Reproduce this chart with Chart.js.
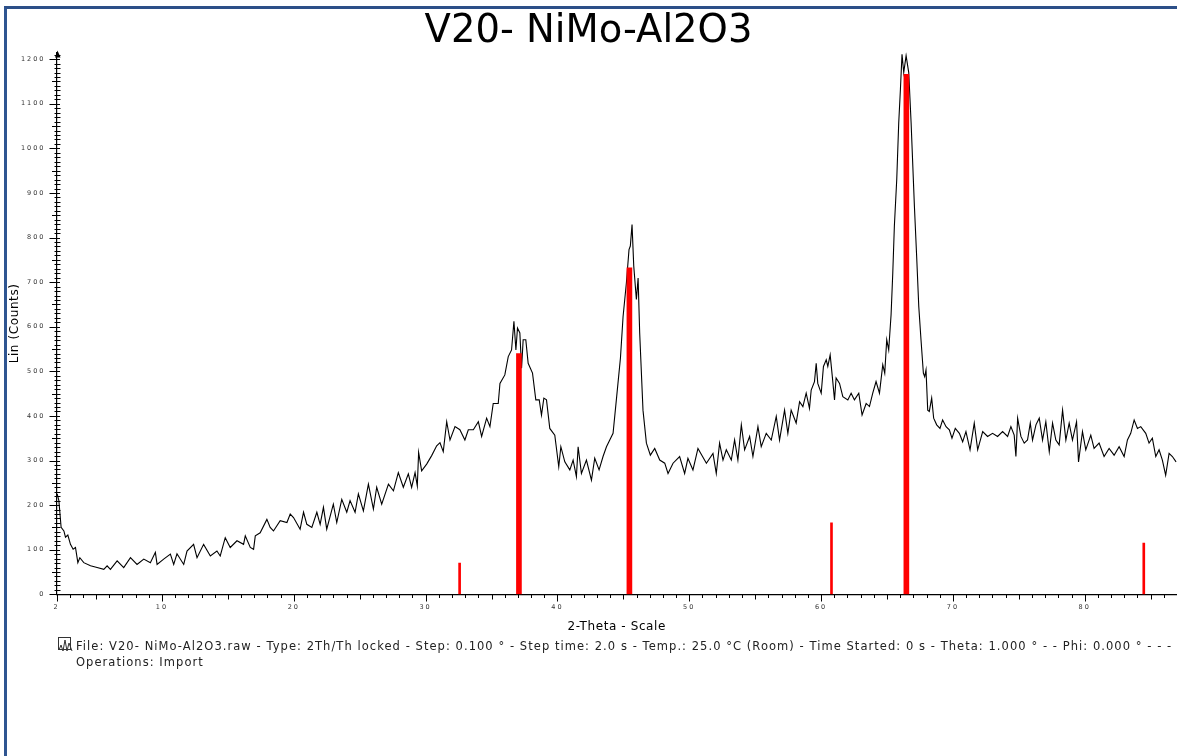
<!DOCTYPE html>
<html>
<head>
<meta charset="utf-8">
<title>V20- NiMo-Al2O3</title>
<script src="https://cdn.jsdelivr.net/npm/chart.js@4.4.1/dist/chart.umd.min.js"></script>
<style>
  html, body { margin: 0; padding: 0; background: #fff; overflow: hidden; }
  #wrap { position: relative; width: 1177px; height: 756px; overflow: hidden; }
  #frame { position: absolute; left: 4px; top: 6px; width: 1300px; height: 900px;
           border-left: 3px solid #2f5591; border-top: 3px solid #2c4f88; pointer-events: none; }
  #myChart { position: absolute; left: 0; top: 0; }
  #footer { position: absolute; left: 76px; top: 638px; font: 11.5px "DejaVu Sans", sans-serif;
            letter-spacing: 1.05px; line-height: 16px; color: #222; white-space: nowrap; }
  #icon { position: absolute; left: 58px; top: 637px; }
</style>
</head>
<body>
<div id="wrap">
  <canvas id="myChart" width="1177" height="756"></canvas>
  <div id="frame"></div>
  <svg id="icon" width="15" height="15" viewBox="0 0 15 15">
    <rect x="0.5" y="0.5" width="12" height="12" fill="none" stroke="#333" stroke-width="1"/>
    <polyline points="1,13 3,8 5,14 7,3 9,14 11,6 14,14" fill="none" stroke="#333" stroke-width="1"/>
  </svg>
  <div id="footer">File: V20- NiMo-Al2O3.raw - Type: 2Th/Th locked - Step: 0.100 ° - Step time: 2.0 s - Temp.: 25.0 °C (Room) - Time Started: 0 s - Theta: 1.000 ° - - Phi: 0.000 ° - - - -<br>Operations: Import</div>
</div>
<script>
// measured pattern (2-theta, counts)
var twoTheta = [
  2.05, 2.18, 2.35, 2.56, 2.68, 2.86, 3.06, 3.26, 3.44, 3.62, 3.77, 4.07, 4.58, 5.08, 5.59, 5.84, 6.09, 6.6, 7.1, 7.61,
  8.11, 8.62, 9.12, 9.5, 9.63, 10.13, 10.64, 10.89, 11.14, 11.65, 11.9, 12.4, 12.66, 13.16, 13.67, 14.17, 14.42, 14.8, 15.18, 15.69,
  16.19, 16.32, 16.7, 16.95, 17.08, 17.45, 17.96, 18.21, 18.46, 18.97, 19.48, 19.73, 19.98, 20.48, 20.74, 20.99, 21.37, 21.75, 22.0, 22.25,
  22.5, 23.0, 23.26, 23.64, 24.02, 24.27, 24.65, 24.9, 25.28, 25.66, 26.04, 26.29, 26.67, 27.18, 27.56, 27.93, 28.31, 28.69, 28.94, 29.2,
  29.37, 29.47, 29.7, 30.08, 30.46, 30.84, 31.09, 31.34, 31.6, 31.85, 32.23, 32.6, 32.98, 33.24, 33.62, 34.0, 34.25, 34.63, 34.88, 35.13,
  35.51, 35.64, 36.01, 36.27, 36.52, 36.7, 36.85, 36.97, 37.15, 37.28, 37.4, 37.6, 37.78, 38.11, 38.36, 38.62, 38.79, 38.97, 39.17, 39.42,
  39.8, 40.1, 40.26, 40.56, 40.94, 41.19, 41.44, 41.57, 41.82, 42.2, 42.58, 42.83, 43.16, 43.46, 43.72, 43.97, 44.22, 44.47, 44.78, 44.98,
  45.23, 45.43, 45.53, 45.66, 45.79, 45.99, 46.12, 46.24, 46.49, 46.75, 47.05, 47.38, 47.76, 48.14, 48.39, 48.77, 49.27, 49.65, 49.9, 50.28,
  50.66, 51.3, 51.8, 52.05, 52.3, 52.56, 52.81, 53.19, 53.44, 53.69, 53.95, 54.2, 54.58, 54.83, 55.21, 55.46, 55.84, 56.22, 56.6, 56.85,
  57.23, 57.48, 57.73, 58.11, 58.37, 58.62, 58.87, 59.12, 59.25, 59.5, 59.63, 59.75, 60.01, 60.18, 60.39, 60.51, 60.69, 60.84, 61.02, 61.14,
  61.4, 61.65, 62.03, 62.28, 62.53, 62.86, 63.11, 63.42, 63.67, 63.92, 64.17, 64.43, 64.68, 64.83, 64.98, 65.13, 65.31, 65.44, 65.56, 65.74,
  65.89, 66.02, 66.14, 66.27, 66.45, 66.65, 66.83, 67.08, 67.25, 67.41, 67.58, 67.76, 67.86, 67.96, 68.09, 68.21, 68.39, 68.54, 68.77, 69.02,
  69.22, 69.48, 69.73, 69.93, 70.18, 70.49, 70.74, 70.99, 71.3, 71.62, 71.88, 72.26, 72.63, 73.01, 73.39, 73.77, 74.15, 74.4, 74.65, 74.78,
  74.91, 75.16, 75.41, 75.66, 75.87, 76.04, 76.3, 76.55, 76.8, 77.05, 77.31, 77.56, 77.81, 78.06, 78.32, 78.57, 78.82, 79.07, 79.38, 79.53,
  79.83, 80.08, 80.46, 80.71, 81.09, 81.47, 81.85, 82.23, 82.61, 82.99, 83.24, 83.49, 83.75, 84.0, 84.25, 84.63, 84.88, 85.13, 85.39, 85.64,
  85.89, 86.14, 86.4, 86.65, 86.93
];
var counts = [
  225, 210, 150, 142, 128, 133, 112, 101, 105, 71, 82, 71, 64, 60, 56, 64, 56, 75, 60, 82,
  67, 79, 71, 94, 67, 79, 90, 67, 91, 67, 97, 112, 82, 112, 86, 97, 86, 127, 105, 120,
  112, 131, 105, 101, 131, 138, 168, 150, 142, 165, 161, 180, 172, 146, 184, 157, 150, 184, 157, 195,
  146, 202, 161, 213, 184, 210, 184, 225, 187, 247, 191, 240, 202, 247, 232, 273, 240, 270, 240, 273,
  243, 318, 277, 292, 311, 333, 340, 320, 387, 346, 376, 369, 346, 369, 369, 387, 354, 395, 376, 428,
  428, 473, 492, 533, 548, 612, 548, 597, 586, 507, 571, 571, 518, 496, 436, 436, 402, 440, 436, 372,
  357, 286, 331, 297, 279, 301, 264, 331, 271, 301, 256, 305, 279, 309, 331, 346, 361, 436, 530, 623,
  698, 773, 781, 829, 736, 661, 709, 586, 413, 339, 312, 327, 301, 294, 271, 294, 309, 271, 305, 279,
  327, 294, 316, 271, 339, 301, 324, 301, 346, 301, 380, 324, 354, 309, 376, 331, 361, 346, 399, 346,
  413, 361, 413, 384, 432, 421, 451, 417, 458, 477, 518, 473, 451, 511, 526, 511, 537, 492, 436, 485,
  473, 443, 436, 451, 436, 451, 402, 428, 421, 451, 477, 451, 515, 496, 571, 548, 627, 721, 826, 930,
  1057, 1133, 1211, 1170, 1208, 1170, 1057, 870, 758, 646, 571, 496, 488, 503, 413, 410, 440, 395, 380, 372,
  391, 376, 369, 350, 372, 361, 342, 365, 324, 384, 324, 365, 354, 361, 354, 365, 354, 376, 357, 309,
  395, 354, 339, 346, 384, 346, 380, 395, 346, 387, 320, 384, 346, 335, 413, 346, 384, 346, 387, 297,
  365, 324, 357, 327, 339, 309, 327, 312, 331, 309, 346, 361, 391, 372, 376, 361, 339, 350, 309, 324,
  301, 267, 316, 309, 297
];

// reference pattern sticks (red)
var strongPos = [37.08, 45.46, 66.47];
var strongInt = [540, 732, 1166];
var weakPos = [32.58, 60.79, 84.48];
var weakInt = [70, 160, 115];

var xTickLabels = [2, 10, 20, 30, 40, 50, 60, 70, 80];
var yTickStep = 100;

function toPoints(xs, ys) {
  var out = [];
  for (var i = 0; i < xs.length; i++) out.push({ x: xs[i], y: ys[i] });
  return out;
}

// wraps a scale draw method so its text gets extra letter spacing
function spaced(scale, name, px) {
  var orig = scale[name];
  scale[name] = function (a) {
    this.ctx.save();
    this.ctx.letterSpacing = px;
    orig.call(this, a);
    this.ctx.restore();
  };
}

// tiny axis ticks like the diffractometer software
var axisTicks = {
  id: 'axisTicks',
  beforeDraw: function (chart) {
    ['x', 'y'].forEach(function (id) {
      var s = chart.scales[id];
      if (s._spaced) return;
      spaced(s, 'drawLabels', '2px');
      spaced(s, 'drawTitle', '0.6px');
      s._spaced = true;
    });
  },
  afterDraw: function (chart) {
    var ctx = chart.ctx, x = chart.scales.x, y = chart.scales.y;
    var ax = Math.round(x.left) + 0.5, ay = Math.round(y.bottom) + 0.5;
    ctx.save();
    ctx.strokeStyle = '#000';
    ctx.lineWidth = 1;
    ctx.beginPath();
    for (var v = 2; v <= x.max; v++) {
      var px = Math.round(x.getPixelForValue(v)) + 0.5;
      var len = (v % 10 === 0 || v === 2) ? 7 : (v % 5 === 0 ? 5 : 3.5);
      ctx.moveTo(px, ay);
      ctx.lineTo(px, ay + len);
    }
    for (var c = 0; c <= 1210; c += 10) {
      var py = Math.round(y.getPixelForValue(c)) + 0.5;
      if (c % 100 === 0) { ctx.moveTo(ax - 8, py); ctx.lineTo(ax + 2.5, py); }
      else if (c % 50 === 0) { ctx.moveTo(ax - 5.5, py); ctx.lineTo(ax + 3, py); }
      else { ctx.moveTo(ax - 3, py); ctx.lineTo(ax + 3, py); }
    }
    ctx.stroke();
    // arrow head at the top of the y axis
    ctx.fillStyle = '#000';
    ctx.beginPath();
    ctx.moveTo(ax, y.top - 2);
    ctx.lineTo(ax - 2.5, y.top + 5);
    ctx.lineTo(ax + 3, y.top + 5);
    ctx.closePath();
    ctx.fill();
    ctx.restore();
  }
};

var ctx = document.getElementById('myChart').getContext('2d');
var myChart = new Chart(ctx, {
  type: 'line',
  data: {
    datasets: [
      {
        type: 'bar',
        data: toPoints(strongPos, strongInt),
        backgroundColor: '#ff0000',
        borderWidth: 0,
        barThickness: 5,
        grouped: false
      },
      {
        type: 'bar',
        data: toPoints(weakPos, weakInt),
        backgroundColor: '#ff0000',
        borderWidth: 0,
        barThickness: 2,
        grouped: false
      },
      {
        label: 'V20- NiMo-Al2O3',
        data: toPoints(twoTheta, counts),
        borderColor: '#000',
        borderWidth: 1.1,
        pointRadius: 0,
        tension: 0,
        fill: false
      }
    ]
  },
  options: {
    responsive: false,
    animation: false,
    layout: { padding: { left: 0, right: 0, top: 0, bottom: 122.3 } },
    plugins: {
      legend: { display: false },
      tooltip: { enabled: false },
      title: {
        display: true,
        text: 'V20- NiMo-Al2O3',
        color: '#000',
        font: { family: 'DejaVu Sans', size: 38.5, weight: 'normal', lineHeight: 1 },
        padding: { top: 12.5, bottom: 1.5 }
      }
    },
    scales: {
      x: {
        type: 'linear',
        min: 2,
        max: 87,
        offset: false,
        grid: { display: false, drawTicks: false },
        border: { display: true, color: '#000', width: 1.2 },
        ticks: {
          stepSize: 1,
          autoSkip: false,
          maxRotation: 0,
          includeBounds: false,
          // no padding (it would shrink the plot on the right); the tall line box pushes labels down
          padding: 0,
          color: '#333',
          font: { family: 'DejaVu Sans', size: 6.5, lineHeight: '25.8px' },
          callback: function (v) { return xTickLabels.indexOf(v) >= 0 ? String(v) : ''; }
        },
        title: {
          display: true,
          text: '2-Theta - Scale',
          color: '#000',
          font: { family: 'DejaVu Sans', size: 12 },
          padding: 0
        },
        afterFit: function (scale) { scale.height = 39.4; }
      },
      y: {
        min: 0,
        max: 1215,
        grid: { display: false, drawTicks: false },
        border: { display: true, color: '#000', width: 1.2 },
        ticks: {
          stepSize: yTickStep,
          includeBounds: false,
          padding: 11,
          color: '#333',
          font: { family: 'DejaVu Sans', size: 6.5 },
          callback: function (v) { return String(v); }
        },
        title: {
          display: true,
          text: 'Lin (Counts)',
          color: '#000',
          font: { family: 'DejaVu Sans', size: 12 },
          padding: { top: 8, bottom: 0 }
        },
        afterFit: function (scale) { scale.width = 56.5; }
      }
    }
  },
  plugins: [axisTicks]
});
</script>
</body>
</html>
